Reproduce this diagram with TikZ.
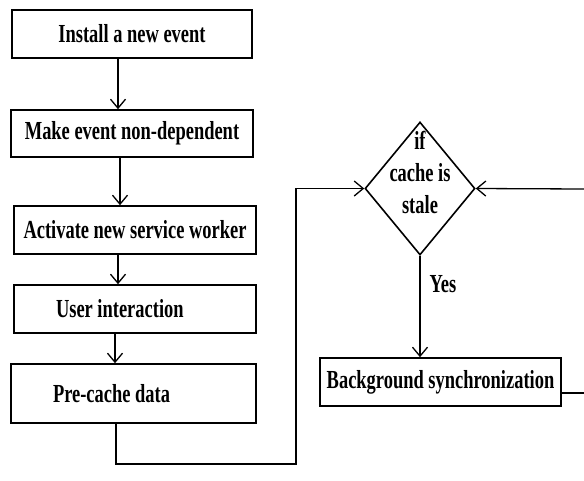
\documentclass[tikz,border=0pt]{standalone}
\usepackage{fontspec}
\setmainfont{Liberation Serif}[FakeStretch=0.71]
\usetikzlibrary{arrows.meta,shapes.geometric}

\begin{document}
\begin{tikzpicture}[
  x=1pt, y=-1pt,
  every node/.style={font=\fontsize{26}{32}\selectfont\bfseries},
  stepbox/.style={draw, line width=1.6pt, inner sep=0pt, minimum height=48pt},
  decision/.style={draw, diamond, line width=1.6pt, inner sep=0pt, minimum width=110pt, minimum height=133pt},
  flow/.style={line width=1.3pt, -{Straight Barb[length=9pt,width=15pt,line width=1.3pt]}},
  wire/.style={line width=1.3pt}
]
\useasboundingbox (0,0) rectangle (584,480);
\node[stepbox, minimum width=240pt] (install) at (132,34) {Install a new event};
\node[stepbox, minimum width=242pt, minimum height=47pt] (nondep) at (132,133.5) {Make event non-dependent};
\node[stepbox, minimum width=242pt] (activate) at (135,230) {Activate new service worker};
\node[stepbox, inner xsep=42pt] (user) at (135,309) {\makebox[158pt][l]{User interaction}};
\node[stepbox, minimum height=59pt, inner xsep=42pt] (precache) at (133.5,393.5) {\makebox[161pt][l]{\raisebox{-7pt}{Pre-cache data}}};
\node[decision] (stale) at (420,188.5) {};
\node[align=center, inner sep=0pt] (staletext) at (420,172) {if\\cache is\\stale};
\node[stepbox, minimum width=241pt] (sync) at (440.5,382) {Background synchronization};
\node (yes) at (443,284) {Yes};
\coordinate (turn) at (296,464);
\coordinate (rightin) at (584,189);
\coordinate (rightout) at (584,393);

\draw[flow] ([xshift=-14pt]install.south) -- ([xshift=-14pt]nondep.north);
\draw[flow] ([xshift=-12pt]nondep.south) -- ([xshift=-12pt]nondep.south |- activate.north);
\draw[flow] ([xshift=-17pt]activate.south) -- ([xshift=-17pt]user.north);
\draw[flow] ([xshift=-20pt]user.south) -- ([xshift=-20pt]user.south |- precache.north);
\draw[flow] ([xshift=-17.5pt]precache.south) |- (turn) |- (stale.west);
\draw[flow] (rightin) -- (stale.east);
\draw[flow] (stale.south) -- (stale.south |- sync.north);
\draw[wire] ([yshift=-11pt]sync.east) -- (rightout);
\end{tikzpicture}
\end{document}
